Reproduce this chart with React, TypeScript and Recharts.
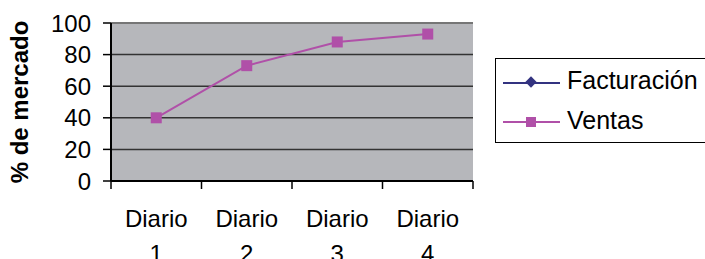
import React from "react";
import {
  LineChart,
  Line,
  XAxis,
  YAxis,
  CartesianGrid,
  ReferenceLine,
} from "recharts";

const categories = ["Diario 1", "Diario 2", "Diario 3", "Diario 4"];
const facturacion: (number | null)[] = [null, null, null, null];
const ventas = [40, 73, 88, 93];
const yTicks = [0, 20, 40, 60, 80, 100];

const data = categories.map((name, i) => ({
  name,
  facturacion: facturacion[i],
  ventas: ventas[i],
}));

const FONT = "'Liberation Sans', Arial, sans-serif";
const NAVY = "#333380";
const PINK = "#B050A8";

const SquareDot = (props: any) => {
  const { cx, cy } = props;
  if (cx == null || cy == null) return null;
  return <rect x={cx - 5.5} y={cy - 5.5} width={11} height={11} fill={PINK} />;
};

// category labels on two lines + tick marks on the band edges
const XTick = (props: any) => {
  const { x, y, payload, index, visibleTicksCount } = props;
  const half = 90.5 / 2;
  const [word, num] = String(payload.value).split(" ");
  return (
    <g>
      <line x1={x - half} y1={y} x2={x - half} y2={y + 8} stroke="#000" strokeWidth={1.5} />
      {index === visibleTicksCount - 1 && (
        <line x1={x + half} y1={y} x2={x + half} y2={y + 8} stroke="#000" strokeWidth={1.5} />
      )}
      <text x={x} y={y + 46} textAnchor="middle" fontSize={24} fill="#000" fontFamily={FONT}>
        {word}
      </text>
      <text x={x} y={y + 81} textAnchor="middle" fontSize={24} fill="#000" fontFamily={FONT}>
        {num}
      </text>
    </g>
  );
};

const YLabel = (props: any) => {
  const { viewBox } = props;
  const cy = viewBox.y + viewBox.height / 2;
  return (
    <text
      x={28}
      y={cy}
      transform={`rotate(-90 28 ${cy})`}
      textAnchor="middle"
      fontSize={24}
      fontWeight="bold"
      fill="#000"
      fontFamily={FONT}
    >
      % de mercado
    </text>
  );
};

const LegendBox = () => (
  <svg
    width={215}
    height={85}
    style={{ position: "absolute", left: 495, top: 58 }}
  >
    <rect x={0.5} y={0.5} width={214} height={84} fill="#fff" stroke="#000" strokeWidth={1} />
    <line x1={8} y1={25} x2={65} y2={25} stroke={NAVY} strokeWidth={2} />
    <rect x={32} y={20} width={8} height={8} fill={NAVY} transform="rotate(45 36 24)" />
    <text x={72} y={31} fontSize={25} fill="#000" fontFamily={FONT}>
      Facturación
    </text>
    <line x1={8} y1={64} x2={65} y2={64} stroke={PINK} strokeWidth={2} />
    <rect x={31} y={59} width={10} height={10} fill={PINK} />
    <text x={72} y={71} fontSize={25} fill="#000" fontFamily={FONT}>
      Ventas
    </text>
  </svg>
);

export default function App() {
  return (
    <div style={{ position: "fixed", left: 0, top: 0, width: 705, height: 259, background: "#fff" }}>
      <LineChart
        width={705}
        height={259}
        data={data}
        margin={{ top: 23, right: 232, bottom: 0, left: 0 }}
      >
        <CartesianGrid
          horizontal={true}
          vertical={false}
          stroke="#333"
          strokeWidth={1.5}
          fill="#B6B7BB"
          fillOpacity={1}
        />
        <XAxis
          dataKey="name"
          scale="band"
          height={78}
          axisLine={{ stroke: "#000", strokeWidth: 2 }}
          tickLine={false}
          tickSize={0}
          tickMargin={0}
          tick={<XTick />}
          interval={0}
        />
        <YAxis
          domain={[0, 100]}
          ticks={yTicks}
          width={111}
          axisLine={{ stroke: "#000", strokeWidth: 2 }}
          tickLine={{ stroke: "#000", strokeWidth: 1.5 }}
          tickSize={8}
          tickMargin={12}
          tick={{ fontSize: 24, fill: "#000", fontFamily: FONT }}
          interval={0}
          label={<YLabel />}
        />
        <YAxis
          yAxisId="right"
          orientation="right"
          domain={[0, 100]}
          width={0}
          tick={false}
          tickLine={false}
          axisLine={{ stroke: "#D8D8D8", strokeWidth: 2 }}
        />
        <ReferenceLine y={100} stroke="#767676" strokeWidth={2} />
        <Line
          dataKey="facturacion"
          name="Facturación"
          stroke={NAVY}
          strokeWidth={2}
          dot={false}
          isAnimationActive={false}
        />
        <Line
          dataKey="ventas"
          name="Ventas"
          stroke={PINK}
          strokeWidth={2}
          dot={<SquareDot />}
          activeDot={false}
          isAnimationActive={false}
        />
      </LineChart>
      <LegendBox />
    </div>
  );
}
